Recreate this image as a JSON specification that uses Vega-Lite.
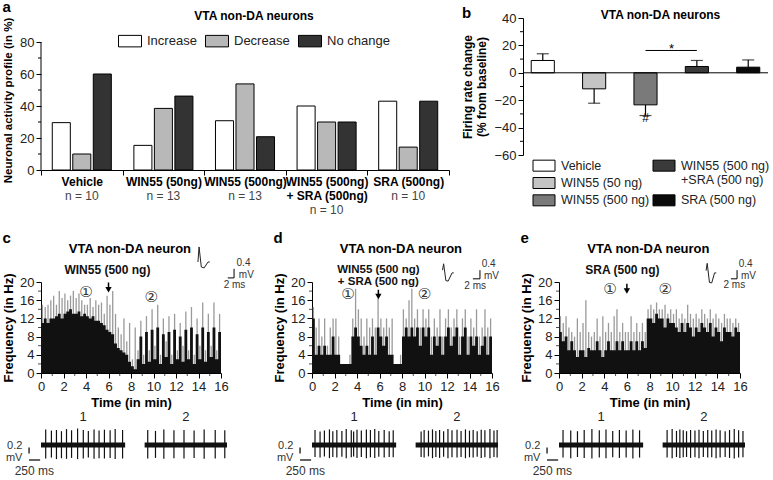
{
"$schema":"https://vega.github.io/schema/vega-lite/v6.json",
"padding":{"left":2,"right":2,"top":0,"bottom":0},
"config":{
 "font":"Liberation Sans",
 "view":{"stroke":null},
 "axis":{"grid":false,"domainColor":"#000","tickColor":"#000","labelColor":"#222","titleColor":"#000","labelFontSize":13,"titleFontSize":13,"titleFontWeight":"bold","labelFont":"Liberation Sans","titleFont":"Liberation Sans","labelOverlap":false,"labelFlush":false},
 "title":{"fontSize":15,"fontWeight":"bold","anchor":"start","frame":"bounds","color":"#000","offset":2,"font":"Liberation Sans"},
 "text":{"font":"Liberation Sans"}
},
"datasets":{
 "a_bars":[
  {"cat":"Vehicle","type":"Increase","v":29.6},{"cat":"Vehicle","type":"Decrease","v":10},{"cat":"Vehicle","type":"No change","v":60},
  {"cat":"WIN55 (50ng)","type":"Increase","v":15.4},{"cat":"WIN55 (50ng)","type":"Decrease","v":38.5},{"cat":"WIN55 (50ng)","type":"No change","v":46.2},
  {"cat":"WIN55 (500ng)","type":"Increase","v":30.8},{"cat":"WIN55 (500ng)","type":"Decrease","v":53.8},{"cat":"WIN55 (500ng)","type":"No change","v":20.8},
  {"cat":"WIN55 (500ng)|+ SRA (500ng)","type":"Increase","v":40},{"cat":"WIN55 (500ng)|+ SRA (500ng)","type":"Decrease","v":30},{"cat":"WIN55 (500ng)|+ SRA (500ng)","type":"No change","v":30},
  {"cat":"SRA (500ng)","type":"Increase","v":43},{"cat":"SRA (500ng)","type":"Decrease","v":14.3},{"cat":"SRA (500ng)","type":"No change","v":43}
 ],
 "a_n":[
  {"cat":"Vehicle","n":"n = 10"},{"cat":"WIN55 (50ng)","n":"n = 13"},{"cat":"WIN55 (500ng)","n":"n = 13"},{"cat":"WIN55 (500ng)|+ SRA (500ng)","n":"n = 10"},{"cat":"SRA (500ng)","n":"n = 10"}
 ],
 "b_bars":[
  {"cat":"Vehicle","m":9,"e":13.9},
  {"cat":"WIN55 (50 ng)","m":-11.7,"e":-22.2},
  {"cat":"WIN55 (500 ng)","m":-23.4,"e":-31.2},
  {"cat":"WIN55 (500 ng)|+SRA (500 ng)","m":4.6,"e":9},
  {"cat":"SRA (500 ng)","m":4.1,"e":9.4}
 ],
 "b_leg":[
  {"cat":"Vehicle","col":1,"row":1,"lab":"Vehicle"},
  {"cat":"WIN55 (50 ng)","col":1,"row":2,"lab":"WIN55 (50 ng)"},
  {"cat":"WIN55 (500 ng)","col":1,"row":3,"lab":"WIN55 (500 ng)"},
  {"cat":"WIN55 (500 ng)|+SRA (500 ng)","col":2,"row":1,"lab":"WIN55 (500 ng)"},
  {"cat":"SRA (500 ng)","col":2,"row":3,"lab":"SRA (500 ng)"},
  {"cat":null,"col":2,"row":1.8,"lab":"+SRA (500 ng)"}
 ],
 "c_h":[
  {"t":0,"k":11,"g":15},{"t":0.25,"k":12,"g":14.5},{"t":0.5,"k":11,"g":15},{"t":0.75,"k":12,"g":16},
  {"t":1,"k":12,"g":17},{"t":1.25,"k":12.5,"g":15},{"t":1.5,"k":13,"g":18},{"t":1.75,"k":12,"g":16.5},
  {"t":2,"k":13,"g":17.5},{"t":2.25,"k":13.5,"g":16},{"t":2.5,"k":14,"g":17},{"t":2.75,"k":13,"g":18},
  {"t":3,"k":13,"g":16.5},{"t":3.25,"k":13.5,"g":17.5},{"t":3.5,"k":12.5,"g":16},{"t":3.75,"k":13,"g":15},
  {"t":4,"k":12.5,"g":15},{"t":4.25,"k":12,"g":16.5},{"t":4.5,"k":12.5,"g":14.5},{"t":4.75,"k":11.5,"g":16},
  {"t":5,"k":11.5,"g":15},{"t":5.25,"k":11,"g":15.5},{"t":5.5,"k":10.5,"g":13},{"t":5.75,"k":9.5,"g":17},
  {"t":6,"k":9,"g":15},{"t":6.25,"k":8.5,"g":18},{"t":6.5,"k":6.5,"g":13},{"t":6.75,"k":5.5,"g":10},
  {"t":7,"k":5,"g":8.5},{"t":7.25,"k":4.5,"g":12},{"t":7.5,"k":4,"g":7},{"t":7.75,"k":2.5,"g":11},
  {"t":8,"k":1.5,"g":3},{"t":8.25,"k":0.8,"g":10},{"t":8.5,"k":3,"g":5},{"t":8.75,"k":8,"g":11.5},
  {"t":9,"k":2,"g":4},{"t":9.25,"k":9,"g":12.5},{"t":9.5,"k":2.5,"g":5},{"t":9.75,"k":9.5,"g":14},
  {"t":10,"k":3,"g":6},{"t":10.25,"k":10,"g":15},{"t":10.5,"k":2,"g":4},{"t":10.75,"k":8.5,"g":12},
  {"t":11,"k":3.5,"g":7},{"t":11.25,"k":9,"g":12.5},{"t":11.5,"k":2,"g":4},{"t":11.75,"k":9.5,"g":13},
  {"t":12,"k":3,"g":5},{"t":12.25,"k":8,"g":11},{"t":12.5,"k":2.5,"g":6},{"t":12.75,"k":9.5,"g":13.5},
  {"t":13,"k":3,"g":5},{"t":13.25,"k":10,"g":14.5},{"t":13.5,"k":2,"g":4},{"t":13.75,"k":8.5,"g":12},
  {"t":14,"k":3,"g":6},{"t":14.25,"k":10,"g":15.5},{"t":14.5,"k":2.5,"g":5},{"t":14.75,"k":9,"g":13},
  {"t":15,"k":3.5,"g":6},{"t":15.25,"k":10,"g":15.5},{"t":15.5,"k":3,"g":5},{"t":15.75,"k":9,"g":13},
  {"t":16,"k":9,"g":13}
 ],
 "d_h":[
  {"t":0,"k":12,"g":14.5},{"t":0.25,"k":4,"g":10},{"t":0.5,"k":6,"g":12},{"t":0.75,"k":4,"g":8},
  {"t":1,"k":6,"g":12},{"t":1.25,"k":4,"g":6},{"t":1.5,"k":4,"g":10},{"t":1.75,"k":8,"g":12},
  {"t":2,"k":4,"g":12},{"t":2.25,"k":4,"g":8},{"t":2.5,"k":2,"g":2},{"t":2.75,"k":2,"g":2},
  {"t":3,"k":2,"g":2},{"t":3.25,"k":2,"g":4},{"t":3.5,"k":8,"g":12},{"t":3.75,"k":10,"g":18.5},
  {"t":4,"k":8,"g":14},{"t":4.25,"k":6,"g":12},{"t":4.5,"k":4,"g":8},{"t":4.75,"k":6,"g":12},
  {"t":5,"k":4,"g":10},{"t":5.25,"k":8,"g":12},{"t":5.5,"k":4,"g":10},{"t":5.75,"k":10,"g":16.5},
  {"t":6,"k":8,"g":12},{"t":6.25,"k":6,"g":10},{"t":6.5,"k":8,"g":12},{"t":6.75,"k":4,"g":10},
  {"t":7,"k":4,"g":12},{"t":7.25,"k":2,"g":2},{"t":7.5,"k":2,"g":2},{"t":7.75,"k":2,"g":4},
  {"t":8,"k":8,"g":14},{"t":8.25,"k":10,"g":12},{"t":8.5,"k":8,"g":16},{"t":8.75,"k":10,"g":18.5},
  {"t":9,"k":8,"g":12},{"t":9.25,"k":10,"g":14},{"t":9.5,"k":6,"g":10},{"t":9.75,"k":10,"g":14},
  {"t":10,"k":8,"g":12},{"t":10.25,"k":10,"g":14},{"t":10.5,"k":4,"g":8},{"t":10.75,"k":8,"g":12},
  {"t":11,"k":6,"g":10},{"t":11.25,"k":8,"g":14},{"t":11.5,"k":4,"g":8},{"t":11.75,"k":8,"g":12},
  {"t":12,"k":10,"g":14},{"t":12.25,"k":6,"g":10},{"t":12.5,"k":8,"g":12},{"t":12.75,"k":10,"g":14},
  {"t":13,"k":4,"g":8},{"t":13.25,"k":8,"g":12},{"t":13.5,"k":10,"g":14},{"t":13.75,"k":4,"g":8},
  {"t":14,"k":8,"g":12},{"t":14.25,"k":6,"g":10},{"t":14.5,"k":8,"g":14},{"t":14.75,"k":4,"g":8},
  {"t":15,"k":6,"g":10},{"t":15.25,"k":8,"g":14},{"t":15.5,"k":4,"g":10},{"t":15.75,"k":8,"g":12},
  {"t":16,"k":8,"g":12}
 ],
 "e_h":[
  {"t":0,"k":9,"g":12.5},{"t":0.25,"k":7,"g":11},{"t":0.5,"k":8,"g":12.5},{"t":0.75,"k":5,"g":10},
  {"t":1,"k":7,"g":9},{"t":1.25,"k":5,"g":8},{"t":1.5,"k":3.5,"g":12},{"t":1.75,"k":5,"g":9},
  {"t":2,"k":5,"g":11},{"t":2.25,"k":3.5,"g":16},{"t":2.5,"k":5.5,"g":9},{"t":2.75,"k":5,"g":8},
  {"t":3,"k":5,"g":9},{"t":3.25,"k":7,"g":12},{"t":3.5,"k":5,"g":8},{"t":3.75,"k":3.5,"g":12.5},
  {"t":4,"k":5,"g":9},{"t":4.25,"k":7,"g":11},{"t":4.5,"k":5,"g":9},{"t":4.75,"k":5,"g":12.5},
  {"t":5,"k":7,"g":14},{"t":5.25,"k":5,"g":9},{"t":5.5,"k":7,"g":11},{"t":5.75,"k":5,"g":9},
  {"t":6,"k":5,"g":9},{"t":6.25,"k":7,"g":12.5},{"t":6.5,"k":5,"g":9},{"t":6.75,"k":7,"g":11},
  {"t":7,"k":5,"g":9},{"t":7.25,"k":7,"g":11},{"t":7.5,"k":5.5,"g":9},{"t":7.75,"k":12,"g":14},
  {"t":8,"k":12,"g":15},{"t":8.25,"k":11,"g":14},{"t":8.5,"k":13,"g":15.5},{"t":8.75,"k":12,"g":14},
  {"t":9,"k":12,"g":14},{"t":9.25,"k":10,"g":15},{"t":9.5,"k":12,"g":13},{"t":9.75,"k":11,"g":14},
  {"t":10,"k":11,"g":13},{"t":10.25,"k":10,"g":14},{"t":10.5,"k":9,"g":12},{"t":10.75,"k":11,"g":13},
  {"t":11,"k":9,"g":12},{"t":11.25,"k":11,"g":15},{"t":11.5,"k":10,"g":13},{"t":11.75,"k":8,"g":12},
  {"t":12,"k":10,"g":13},{"t":12.25,"k":9,"g":12},{"t":12.5,"k":11,"g":14},{"t":12.75,"k":10,"g":13},
  {"t":13,"k":9,"g":12},{"t":13.25,"k":11,"g":14},{"t":13.5,"k":8,"g":12},{"t":13.75,"k":10,"g":13},
  {"t":14,"k":9,"g":12},{"t":14.25,"k":7,"g":11},{"t":14.5,"k":10,"g":13},{"t":14.75,"k":9,"g":12},
  {"t":15,"k":9,"g":12},{"t":15.25,"k":8,"g":11},{"t":15.5,"k":10,"g":12},{"t":15.75,"k":9,"g":11},
  {"t":16,"k":9,"g":11}
 ],
 "c_circ":[{"t":4,"f":17.8,"s":"①"},{"t":9.8,"f":16.7,"s":"②"}],
 "d_circ":[{"t":3.2,"f":17.4,"s":"①"},{"t":10,"f":17.4,"s":"②"}],
 "e_circ":[{"t":4.5,"f":18.5,"s":"①"},{"t":9.4,"f":18.5,"s":"②"}],
 "c_wave":[{"t":13.95,"f":24.4},{"t":14.05,"f":27.7},{"t":14.25,"f":23.3},{"t":14.5,"f":23.1},{"t":14.85,"f":24.4},{"t":15.0,"f":24.4}],
 "d_wave":[{"t":11.6,"f":22.6},{"t":11.7,"f":24.0},{"t":11.9,"f":20.3},{"t":12.1,"f":20.2},{"t":12.45,"f":22.0},{"t":12.6,"f":22.0}],
 "e_wave":[{"t":13.0,"f":22.5},{"t":13.1,"f":24.1},{"t":13.3,"f":19.9},{"t":13.5,"f":19.8},{"t":13.75,"f":22.0},{"t":13.9,"f":22.0}],
 "c_bar":[{"t":17.16,"t2":17.16,"f":20.9,"f2":22.9},{"t":16.6,"t2":17.16,"f":20.9,"f2":20.9}],
 "d_bar":[{"t":14.93,"t2":14.93,"f":20.7,"f2":22.6},{"t":14.3,"t2":14.93,"f":20.7,"f2":20.7}],
 "e_bar":[{"t":15.74,"t2":15.74,"f":20.7,"f2":22.6},{"t":15.2,"t2":15.74,"f":20.7,"f2":20.7}],
 "c_itxt":[{"t":18.0,"f":24.1,"s":"0.4"},{"t":18.25,"f":21.5,"s":"mV"},{"t":17.2,"f":19.4,"s":"2 ms"}],
 "d_itxt":[{"t":15.7,"f":23.9,"s":"0.4"},{"t":15.95,"f":21.3,"s":"mV"},{"t":14.5,"f":19.2,"s":"2 ms"}],
 "e_itxt":[{"t":16.5,"f":23.9,"s":"0.4"},{"t":16.75,"f":21.3,"s":"mV"},{"t":15.5,"f":19.3,"s":"2 ms"}],
 "hy_minor":[{"v":2},{"v":6},{"v":10},{"v":14},{"v":18}],
 "hx_minor":[{"v":1},{"v":3},{"v":5},{"v":7},{"v":9},{"v":11},{"v":13},{"v":15}],
 "seg":[{"s":"1","x0":0,"x1":1900,"mid":950},{"s":"2","x0":2340,"x1":4200,"mid":3270}],
 "sbar":[{"x":-270,"x2":-270,"y":-0.08,"y2":-0.28},{"x":-270,"x2":-20,"y":-0.5,"y2":-0.5}],
 "stxt":[{"x":-420,"y":-0.04,"s":"0.2"},{"x":-420,"y":-0.42,"s":"mV"}],
 "c_sp":[
  {"x":106,"hi":0.52,"lo":-0.45},{"x":235,"hi":0.48,"lo":-0.42},{"x":349,"hi":0.5,"lo":-0.47},{"x":462,"hi":0.46,"lo":-0.44},{"x":576,"hi":0.53,"lo":-0.46},
  {"x":690,"hi":0.49,"lo":-0.43},{"x":826,"hi":0.55,"lo":-0.47},{"x":955,"hi":0.5,"lo":-0.45},{"x":1069,"hi":0.47,"lo":-0.42},{"x":1198,"hi":0.52,"lo":-0.46},
  {"x":1311,"hi":0.48,"lo":-0.44},{"x":1432,"hi":0.51,"lo":-0.45},{"x":1561,"hi":0.49,"lo":-0.43},{"x":1675,"hi":0.53,"lo":-0.47},{"x":1842,"hi":0.5,"lo":-0.45},
  {"x":2410,"hi":0.5,"lo":-0.45},{"x":2585,"hi":0.47,"lo":-0.43},{"x":2774,"hi":0.52,"lo":-0.46},{"x":3002,"hi":0.49,"lo":-0.44},{"x":3229,"hi":0.5,"lo":-0.45},
  {"x":3457,"hi":0.48,"lo":-0.43},{"x":3684,"hi":0.52,"lo":-0.46},{"x":3934,"hi":0.5,"lo":-0.45},{"x":4150,"hi":0.49,"lo":-0.44}
 ],
 "d_sp":[
  {"x":68,"hi":0.5,"lo":-0.4},{"x":182,"hi":0.45,"lo":-0.42},{"x":280,"hi":0.48,"lo":-0.38},{"x":394,"hi":0.52,"lo":-0.44},{"x":470,"hi":0.46,"lo":-0.4},
  {"x":561,"hi":0.5,"lo":-0.42},{"x":675,"hi":0.47,"lo":-0.39},{"x":773,"hi":0.53,"lo":-0.44},{"x":887,"hi":0.49,"lo":-0.41},{"x":940,"hi":0.45,"lo":-0.38},
  {"x":1016,"hi":0.51,"lo":-0.43},{"x":1114,"hi":0.48,"lo":-0.4},{"x":1228,"hi":0.52,"lo":-0.44},{"x":1319,"hi":0.5,"lo":-0.41},{"x":1417,"hi":0.53,"lo":-0.43},
  {"x":1508,"hi":0.47,"lo":-0.39},{"x":1630,"hi":0.5,"lo":-0.42},{"x":1743,"hi":0.46,"lo":-0.4},{"x":1834,"hi":0.49,"lo":-0.41},
  {"x":2464,"hi":0.45,"lo":-0.4},{"x":2532,"hi":0.5,"lo":-0.42},{"x":2630,"hi":0.48,"lo":-0.38},{"x":2721,"hi":0.52,"lo":-0.44},{"x":2797,"hi":0.47,"lo":-0.4},
  {"x":2881,"hi":0.5,"lo":-0.43},{"x":2972,"hi":0.46,"lo":-0.39},{"x":3070,"hi":0.53,"lo":-0.44},{"x":3161,"hi":0.49,"lo":-0.41},{"x":3275,"hi":0.51,"lo":-0.42},
  {"x":3366,"hi":0.47,"lo":-0.4},{"x":3465,"hi":0.52,"lo":-0.44},{"x":3556,"hi":0.48,"lo":-0.41},{"x":3639,"hi":0.5,"lo":-0.42},{"x":3730,"hi":0.46,"lo":-0.39},
  {"x":3821,"hi":0.51,"lo":-0.43},{"x":3904,"hi":0.49,"lo":-0.41},{"x":4018,"hi":0.53,"lo":-0.44},{"x":4109,"hi":0.48,"lo":-0.4},{"x":4180,"hi":0.5,"lo":-0.42}
 ],
 "e_sp":[
  {"x":91,"hi":0.5,"lo":-0.42},{"x":265,"hi":0.48,"lo":-0.44},{"x":417,"hi":0.46,"lo":-0.4},{"x":569,"hi":0.5,"lo":-0.43},{"x":743,"hi":0.53,"lo":-0.45},
  {"x":910,"hi":0.49,"lo":-0.42},{"x":1061,"hi":0.52,"lo":-0.44},{"x":1213,"hi":0.47,"lo":-0.41},{"x":1364,"hi":0.5,"lo":-0.43},{"x":1516,"hi":0.48,"lo":-0.42},
  {"x":1668,"hi":0.52,"lo":-0.45},{"x":1819,"hi":0.49,"lo":-0.42},
  {"x":2441,"hi":0.5,"lo":-0.42},{"x":2555,"hi":0.53,"lo":-0.44},{"x":2653,"hi":0.47,"lo":-0.4},{"x":2729,"hi":0.52,"lo":-0.43},{"x":2805,"hi":0.49,"lo":-0.41},
  {"x":2880,"hi":0.46,"lo":-0.4},{"x":2971,"hi":0.5,"lo":-0.43},{"x":3070,"hi":0.48,"lo":-0.41},{"x":3161,"hi":0.51,"lo":-0.44},{"x":3259,"hi":0.47,"lo":-0.4},
  {"x":3358,"hi":0.5,"lo":-0.42},{"x":3449,"hi":0.48,"lo":-0.41},{"x":3547,"hi":0.52,"lo":-0.44},{"x":3638,"hi":0.49,"lo":-0.42},{"x":3752,"hi":0.46,"lo":-0.4},
  {"x":3851,"hi":0.5,"lo":-0.43},{"x":3957,"hi":0.53,"lo":-0.45},{"x":4056,"hi":0.49,"lo":-0.42},{"x":4154,"hi":0.47,"lo":-0.41}
 ]
},
"spacing":13,
"vconcat":[
 {"spacing":11,"hconcat":[
  {"title":{"text":"a","offset":-5},"width":408,"height":152,
   "resolve":{"axis":{"y":"independent"}},
   "layer":[
    {"data":{"name":"a_bars"},"mark":{"type":"bar","stroke":"#000","strokeWidth":1},
     "encoding":{
      "x":{"field":"cat","type":"nominal","sort":null,"scale":{"paddingInner":0,"paddingOuter":0},
       "axis":{"title":null,"labelAngle":0,"labelFontWeight":"bold","labelFontSize":12,"labelColor":"#000","labelExpr":"split(datum.label, '|')","tickBand":"extent","tickSize":5,"labelPadding":1,"labelLineHeight":14}},
      "xOffset":{"field":"type","type":"nominal","sort":["Increase","Decrease","No change"],"scale":{"paddingInner":0.12,"paddingOuter":0.55}},
      "y":{"field":"v","type":"quantitative","scale":{"domain":[0,95],"nice":false},
       "axis":{"title":"Neuronal activity profile (in %)","titleFontSize":11.5,"titleY":82,"domain":false,"labelOverlap":false,"values":[0,20,40,60,80],"tickSize":5,"titlePadding":6}},
      "fill":{"field":"type","type":"nominal","scale":{"domain":["Increase","Decrease","No change"],"range":["#ffffff","#b8b8b8","#333333"]},
       "legend":{"orient":"none","legendX":77,"legendY":11,"direction":"horizontal","title":null,"symbolType":"M-1,-0.5H1V0.5H-1Z","symbolSize":529,"symbolStrokeColor":"#000","symbolStrokeWidth":1,"labelFontSize":13,"labelColor":"#222","columnPadding":6,"labelOffset":5}}
     }},
    {"data":{"values":[{}]},"mark":{"type":"rule","color":"#000","strokeWidth":1},
     "encoding":{"x":{"datum":"Vehicle","bandPosition":0},"y":{"datum":0,"type":"quantitative","axis":null},"y2":{"datum":80}}},
    {"data":{"values":[{"v":10},{"v":30},{"v":50},{"v":70}]},"mark":{"type":"rule","strokeWidth":1,"color":"#000","xOffset":-3},
     "encoding":{"x":{"datum":"Vehicle","bandPosition":0},"x2":{"datum":"Vehicle","bandPosition":0},"y":{"field":"v","type":"quantitative","axis":null}}},
    {"data":{"name":"a_n"},"transform":[{"filter":"indexof(datum.cat, '|') < 0"}],"mark":{"type":"text","fontSize":12,"color":"#444"},
     "encoding":{"x":{"field":"cat","type":"nominal","sort":null},"y":{"datum":-16.3,"axis":null},"text":{"field":"n"}}},
    {"data":{"name":"a_n"},"transform":[{"filter":"indexof(datum.cat, '|') >= 0"}],"mark":{"type":"text","fontSize":12,"color":"#444"},
     "encoding":{"x":{"field":"cat","type":"nominal","sort":null},"y":{"datum":-25.3,"axis":null},"text":{"field":"n"}}},
    {"data":{"values":[{}]},"mark":{"type":"text","fontSize":12,"fontWeight":"bold","color":"#000","dx":9},
     "encoding":{"x":{"datum":"WIN55 (500ng)"},"y":{"datum":96,"axis":null},"text":{"value":"VTA non-DA neurons"}}}
   ]},
  {"title":{"text":"b","offset":-12},"bounds":"flush","spacing":2,
   "vconcat":[
    {"width":245,"height":137,
     "resolve":{"axis":{"y":"independent"}},
     "layer":[
      {"data":{"name":"b_bars"},"mark":{"type":"bar","stroke":"#000","strokeWidth":1},
       "encoding":{
        "x":{"field":"cat","type":"nominal","sort":null,"scale":{"paddingInner":0.55,"paddingOuter":0.16},"axis":null},
        "y":{"field":"m","type":"quantitative","scale":{"domain":[-60,40],"nice":false},
         "axis":{"title":["Firing rate change","(% from baseline)"],"titleFontSize":12,"labelOverlap":false,"values":[-60,-40,-20,0,20,40],"tickSize":5,"titlePadding":5}},
        "color":{"field":"cat","type":"nominal","scale":{"domain":["Vehicle","WIN55 (50 ng)","WIN55 (500 ng)","WIN55 (500 ng)|+SRA (500 ng)","SRA (500 ng)"],"range":["#ffffff","#c4c4c4","#7a7a7a","#3a3a3a","#0a0a0a"]},"legend":null}
       }},
      {"data":{"values":[{"v":-50},{"v":-30},{"v":-10},{"v":10},{"v":30}]},"mark":{"type":"rule","strokeWidth":1,"color":"#000","xOffset":-3},
       "encoding":{"x":{"datum":"Vehicle","bandPosition":-0.356},"x2":{"datum":"Vehicle","bandPosition":-0.356},"y":{"field":"v","type":"quantitative","axis":null}}},
      {"data":{"name":"b_bars"},"mark":{"type":"rule","color":"#000","strokeWidth":1.2},
       "encoding":{"x":{"field":"cat","type":"nominal","sort":null},"y":{"field":"m","type":"quantitative","axis":null},"y2":{"field":"e"}}},
      {"data":{"name":"b_bars"},"mark":{"type":"tick","orient":"horizontal","color":"#000","size":12,"thickness":1.2},
       "encoding":{"x":{"field":"cat","type":"nominal","sort":null},"y":{"field":"e","type":"quantitative","axis":null}}},
      {"data":{"values":[{}]},"mark":{"type":"rule","color":"#000","strokeWidth":1},"encoding":{"y":{"datum":0,"axis":null}}},
      {"data":{"values":[{}]},"mark":{"type":"rule","color":"#000","strokeWidth":1},
       "encoding":{"x":{"datum":"WIN55 (500 ng)"},"x2":{"datum":"WIN55 (500 ng)|+SRA (500 ng)"},"y":{"datum":16.3,"axis":null}}},
      {"data":{"values":[{}]},"mark":{"type":"text","fontSize":13,"color":"#000","dx":26,"dy":1},
       "encoding":{"x":{"datum":"WIN55 (500 ng)"},"y":{"datum":18,"axis":null},"text":{"value":"*"}}},
      {"data":{"values":[{}]},"mark":{"type":"text","fontSize":12,"color":"#000"},
       "encoding":{"x":{"datum":"WIN55 (500 ng)"},"y":{"datum":-33,"axis":null},"text":{"value":"#"}}},
      {"data":{"values":[{}]},"mark":{"type":"text","fontSize":12,"fontWeight":"bold","color":"#000","dx":15},
       "encoding":{"x":{"datum":"WIN55 (500 ng)"},"y":{"datum":42,"axis":null},"text":{"value":"VTA non-DA neurons"}}}
     ]},
    {"width":162,"height":52,"data":{"name":"b_leg"},
     "layer":[
      {"transform":[{"filter":"datum.cat != null"}],
       "mark":{"type":"point","shape":"M-1,-0.5H1V0.5H-1Z","size":484,"filled":true,"opacity":1,"stroke":"#000","strokeWidth":1},
       "encoding":{"x":{"field":"col","type":"ordinal","scale":{"type":"point","padding":0.175},"axis":null},
        "y":{"field":"row","type":"quantitative","scale":{"domain":[0.5,3.5],"reverse":true,"nice":false,"zero":false},"axis":null},
        "color":{"field":"cat","type":"nominal","scale":{"domain":["Vehicle","WIN55 (50 ng)","WIN55 (500 ng)","WIN55 (500 ng)|+SRA (500 ng)","SRA (500 ng)"],"range":["#ffffff","#c4c4c4","#7a7a7a","#3a3a3a","#0a0a0a"]},"legend":null}}},
      {"mark":{"type":"text","align":"left","baseline":"middle","dx":17,"fontSize":12.5,"color":"#222"},
       "encoding":{"x":{"field":"col","type":"ordinal"},"y":{"field":"row","type":"quantitative"},"text":{"field":"lab"}}}
     ]}
   ]}
 ]},
 {"spacing":19,"hconcat":[
  {"title":{"text":"c","offset":-3},"bounds":"flush","spacing":42,
   "vconcat":[
    {"width":180,"height":91,
     "resolve":{"axis":{"x":"independent","y":"independent"}},
     "layer":[
      {"data":{"name":"c_h"},"transform":[{"filter":"datum.t < 16"}],"mark":{"type":"rule","color":"#9a9a9a","strokeWidth":1.3,"xOffset":1.4},
       "encoding":{"x":{"field":"t","type":"quantitative","scale":{"domain":[0,16],"nice":false},
         "axis":{"title":"Time (in min)","labelOverlap":false,"values":[0,2,4,6,8,10,12,14,16],"tickSize":5,"labelPadding":2,"titlePadding":3}},
        "y":{"field":"g","type":"quantitative","scale":{"domain":[0,20],"nice":false},
         "axis":{"title":"Frequency (in Hz)","labelOverlap":false,"values":[0,4,8,12,16,20],"tickSize":5,"titlePadding":4}},
        "y2":{"datum":0}}},
      {"data":{"name":"c_h"},"mark":{"type":"area","interpolate":"step-after","color":"#111"},
       "encoding":{"x":{"field":"t","type":"quantitative","axis":null},"y":{"field":"k","type":"quantitative","axis":null}}},
      {"data":{"name":"hy_minor"},"mark":{"type":"tick","orient":"horizontal","size":3,"thickness":1,"color":"#000","xOffset":-1.5},
       "encoding":{"x":{"datum":0,"axis":null},"y":{"field":"v","type":"quantitative","axis":null}}},
      {"data":{"name":"hx_minor"},"mark":{"type":"tick","orient":"vertical","size":3,"thickness":1,"color":"#000","yOffset":1.5},
       "encoding":{"x":{"field":"v","type":"quantitative","axis":null},"y":{"datum":0,"axis":null}}},
      {"data":{"values":[{}]},"mark":{"type":"text","fontSize":13,"fontWeight":"bold","color":"#000"},
       "encoding":{"x":{"datum":7.9,"axis":null},"y":{"datum":27.3,"axis":null},"text":{"value":"VTA non-DA neuron"}}},
      {"data":{"values":[{}]},"mark":{"type":"text","fontSize":12,"fontWeight":"bold","color":"#111"},
       "encoding":{"x":{"datum":5.9,"axis":null},"y":{"datum":22.6,"axis":null},"text":{"value":"WIN55 (500 ng)"}}},
      {"data":{"name":"c_circ"},"mark":{"type":"text","fontSize":15,"font":"DejaVu Sans","color":"#333"},
       "encoding":{"x":{"field":"t","type":"quantitative","axis":null},"y":{"field":"f","type":"quantitative","axis":null},"text":{"field":"s"}}},
      {"data":{"values":[{}]},"mark":{"type":"rule","color":"#000","strokeWidth":1.5},
       "encoding":{"x":{"datum":6,"axis":null},"y":{"datum":19.9,"axis":null},"y2":{"datum":18.6}}},
      {"data":{"values":[{}]},"mark":{"type":"point","shape":"triangle-down","filled":true,"size":40,"color":"#000","opacity":1},
       "encoding":{"x":{"datum":6,"axis":null},"y":{"datum":18.3,"axis":null}}},
      {"data":{"name":"c_wave"},"mark":{"type":"line","color":"#222","strokeWidth":1},
       "encoding":{"x":{"field":"t","type":"quantitative","axis":null},"y":{"field":"f","type":"quantitative","axis":null}}},
      {"data":{"name":"c_bar"},"mark":{"type":"rule","color":"#000","strokeWidth":1},
       "encoding":{"x":{"field":"t","type":"quantitative","axis":null},"x2":{"field":"t2"},"y":{"field":"f","type":"quantitative","axis":null},"y2":{"field":"f2"}}},
      {"data":{"name":"c_itxt"},"mark":{"type":"text","fontSize":10,"color":"#333"},
       "encoding":{"x":{"field":"t","type":"quantitative","axis":null},"y":{"field":"f","type":"quantitative","axis":null},"text":{"field":"s"}}}
     ]},
    {"width":186,"height":48,
     "layer":[
      {"data":{"name":"seg"},"mark":{"type":"rule","color":"#111","strokeWidth":5},
       "encoding":{"x":{"field":"x0","type":"quantitative","scale":{"domain":[0,4200],"nice":false},"axis":null},"x2":{"field":"x1"},"y":{"datum":0,"scale":{"domain":[-0.6,1.0],"nice":false},"axis":null}}},
      {"data":{"name":"c_sp"},"mark":{"type":"rule","color":"#111","strokeWidth":1.2},
       "encoding":{"x":{"field":"x","type":"quantitative"},"y":{"field":"hi","type":"quantitative"},"y2":{"field":"lo"}}},
      {"data":{"name":"seg"},"mark":{"type":"text","fontSize":13,"color":"#222"},
       "encoding":{"x":{"field":"mid","type":"quantitative"},"y":{"datum":0.93},"text":{"field":"s"}}},
      {"data":{"name":"sbar"},"mark":{"type":"rule","color":"#111","strokeWidth":1.3},
       "encoding":{"x":{"field":"x","type":"quantitative"},"x2":{"field":"x2"},"y":{"field":"y","type":"quantitative"},"y2":{"field":"y2"}}},
      {"data":{"name":"stxt"},"mark":{"type":"text","fontSize":11,"color":"#333","align":"right"},
       "encoding":{"x":{"field":"x","type":"quantitative"},"y":{"field":"y","type":"quantitative"},"text":{"field":"s"}}},
      {"data":{"values":[{}]},"mark":{"type":"text","fontSize":12,"color":"#333"},
       "encoding":{"x":{"datum":-150},"y":{"datum":-0.85},"text":{"value":"250 ms"}}}
     ]}
   ]},
  {"title":{"text":"d","offset":-3},"bounds":"flush","spacing":42,
   "vconcat":[
    {"width":180,"height":91,
     "resolve":{"axis":{"x":"independent","y":"independent"}},
     "layer":[
      {"data":{"name":"d_h"},"transform":[{"filter":"datum.t < 16"}],"mark":{"type":"rule","color":"#9a9a9a","strokeWidth":1.3,"xOffset":1.4},
       "encoding":{"x":{"field":"t","type":"quantitative","scale":{"domain":[0,16],"nice":false},
         "axis":{"title":"Time (in min)","labelOverlap":false,"values":[0,2,4,6,8,10,12,14,16],"tickSize":5,"labelPadding":2,"titlePadding":3}},
        "y":{"field":"g","type":"quantitative","scale":{"domain":[0,20],"nice":false},
         "axis":{"title":"Frequency (in Hz)","labelOverlap":false,"values":[0,4,8,12,16,20],"tickSize":5,"titlePadding":4}},
        "y2":{"datum":0}}},
      {"data":{"name":"d_h"},"mark":{"type":"area","interpolate":"step-after","color":"#111"},
       "encoding":{"x":{"field":"t","type":"quantitative","axis":null},"y":{"field":"k","type":"quantitative","axis":null}}},
      {"data":{"name":"hy_minor"},"mark":{"type":"tick","orient":"horizontal","size":3,"thickness":1,"color":"#000","xOffset":-1.5},
       "encoding":{"x":{"datum":0,"axis":null},"y":{"field":"v","type":"quantitative","axis":null}}},
      {"data":{"name":"hx_minor"},"mark":{"type":"tick","orient":"vertical","size":3,"thickness":1,"color":"#000","yOffset":1.5},
       "encoding":{"x":{"field":"v","type":"quantitative","axis":null},"y":{"datum":0,"axis":null}}},
      {"data":{"values":[{}]},"mark":{"type":"text","fontSize":13,"fontWeight":"bold","color":"#000"},
       "encoding":{"x":{"datum":7.9,"axis":null},"y":{"datum":27.3,"axis":null},"text":{"value":"VTA non-DA neuron"}}},
      {"data":{"values":[{}]},"mark":{"type":"text","fontSize":11.5,"fontWeight":"bold","color":"#111","lineBreak":"\n","lineHeight":12},
       "encoding":{"x":{"datum":5.9,"axis":null},"y":{"datum":22.6,"axis":null},"text":{"value":"WIN55 (500 ng)\n+ SRA (500 ng)"}}},
      {"data":{"name":"d_circ"},"mark":{"type":"text","fontSize":15,"font":"DejaVu Sans","color":"#333"},
       "encoding":{"x":{"field":"t","type":"quantitative","axis":null},"y":{"field":"f","type":"quantitative","axis":null},"text":{"field":"s"}}},
      {"data":{"values":[{}]},"mark":{"type":"rule","color":"#000","strokeWidth":1.5},
       "encoding":{"x":{"datum":5.9,"axis":null},"y":{"datum":18.3,"axis":null},"y2":{"datum":17.1}}},
      {"data":{"values":[{}]},"mark":{"type":"point","shape":"triangle-down","filled":true,"size":40,"color":"#000","opacity":1},
       "encoding":{"x":{"datum":5.9,"axis":null},"y":{"datum":16.8,"axis":null}}},
      {"data":{"name":"d_wave"},"mark":{"type":"line","color":"#222","strokeWidth":1},
       "encoding":{"x":{"field":"t","type":"quantitative","axis":null},"y":{"field":"f","type":"quantitative","axis":null}}},
      {"data":{"name":"d_bar"},"mark":{"type":"rule","color":"#000","strokeWidth":1},
       "encoding":{"x":{"field":"t","type":"quantitative","axis":null},"x2":{"field":"t2"},"y":{"field":"f","type":"quantitative","axis":null},"y2":{"field":"f2"}}},
      {"data":{"name":"d_itxt"},"mark":{"type":"text","fontSize":10,"color":"#333"},
       "encoding":{"x":{"field":"t","type":"quantitative","axis":null},"y":{"field":"f","type":"quantitative","axis":null},"text":{"field":"s"}}}
     ]},
    {"width":186,"height":48,
     "layer":[
      {"data":{"name":"seg"},"mark":{"type":"rule","color":"#111","strokeWidth":5},
       "encoding":{"x":{"field":"x0","type":"quantitative","scale":{"domain":[0,4200],"nice":false},"axis":null},"x2":{"field":"x1"},"y":{"datum":0,"scale":{"domain":[-0.6,1.0],"nice":false},"axis":null}}},
      {"data":{"name":"d_sp"},"mark":{"type":"rule","color":"#111","strokeWidth":1.2},
       "encoding":{"x":{"field":"x","type":"quantitative"},"y":{"field":"hi","type":"quantitative"},"y2":{"field":"lo"}}},
      {"data":{"name":"seg"},"mark":{"type":"text","fontSize":13,"color":"#222"},
       "encoding":{"x":{"field":"mid","type":"quantitative"},"y":{"datum":0.93},"text":{"field":"s"}}},
      {"data":{"name":"sbar"},"mark":{"type":"rule","color":"#111","strokeWidth":1.3},
       "encoding":{"x":{"field":"x","type":"quantitative"},"x2":{"field":"x2"},"y":{"field":"y","type":"quantitative"},"y2":{"field":"y2"}}},
      {"data":{"name":"stxt"},"mark":{"type":"text","fontSize":11,"color":"#333","align":"right"},
       "encoding":{"x":{"field":"x","type":"quantitative"},"y":{"field":"y","type":"quantitative"},"text":{"field":"s"}}},
      {"data":{"values":[{}]},"mark":{"type":"text","fontSize":12,"color":"#333"},
       "encoding":{"x":{"datum":-150},"y":{"datum":-0.85},"text":{"value":"250 ms"}}}
     ]}
   ]},
  {"title":{"text":"e","offset":-3},"bounds":"flush","spacing":42,
   "vconcat":[
    {"width":181,"height":91,
     "resolve":{"axis":{"x":"independent","y":"independent"}},
     "layer":[
      {"data":{"name":"e_h"},"transform":[{"filter":"datum.t < 16"}],"mark":{"type":"rule","color":"#9a9a9a","strokeWidth":1.3,"xOffset":1.4},
       "encoding":{"x":{"field":"t","type":"quantitative","scale":{"domain":[0,16],"nice":false},
         "axis":{"title":"Time (in min)","labelOverlap":false,"values":[0,2,4,6,8,10,12,14,16],"tickSize":5,"labelPadding":2,"titlePadding":3}},
        "y":{"field":"g","type":"quantitative","scale":{"domain":[0,20],"nice":false},
         "axis":{"title":"Frequency (in Hz)","labelOverlap":false,"values":[0,4,8,12,16,20],"tickSize":5,"titlePadding":4}},
        "y2":{"datum":0}}},
      {"data":{"name":"e_h"},"mark":{"type":"area","interpolate":"step-after","color":"#111"},
       "encoding":{"x":{"field":"t","type":"quantitative","axis":null},"y":{"field":"k","type":"quantitative","axis":null}}},
      {"data":{"name":"hy_minor"},"mark":{"type":"tick","orient":"horizontal","size":3,"thickness":1,"color":"#000","xOffset":-1.5},
       "encoding":{"x":{"datum":0,"axis":null},"y":{"field":"v","type":"quantitative","axis":null}}},
      {"data":{"name":"hx_minor"},"mark":{"type":"tick","orient":"vertical","size":3,"thickness":1,"color":"#000","yOffset":1.5},
       "encoding":{"x":{"field":"v","type":"quantitative","axis":null},"y":{"datum":0,"axis":null}}},
      {"data":{"values":[{}]},"mark":{"type":"text","fontSize":13,"fontWeight":"bold","color":"#000"},
       "encoding":{"x":{"datum":7.9,"axis":null},"y":{"datum":27.3,"axis":null},"text":{"value":"VTA non-DA neuron"}}},
      {"data":{"values":[{}]},"mark":{"type":"text","fontSize":12,"fontWeight":"bold","color":"#111"},
       "encoding":{"x":{"datum":5.6,"axis":null},"y":{"datum":22.6,"axis":null},"text":{"value":"SRA (500 ng)"}}},
      {"data":{"name":"e_circ"},"mark":{"type":"text","fontSize":15,"font":"DejaVu Sans","color":"#333"},
       "encoding":{"x":{"field":"t","type":"quantitative","axis":null},"y":{"field":"f","type":"quantitative","axis":null},"text":{"field":"s"}}},
      {"data":{"values":[{}]},"mark":{"type":"rule","color":"#000","strokeWidth":1.5},
       "encoding":{"x":{"datum":6,"axis":null},"y":{"datum":19.6,"axis":null},"y2":{"datum":18.4}}},
      {"data":{"values":[{}]},"mark":{"type":"point","shape":"triangle-down","filled":true,"size":40,"color":"#000","opacity":1},
       "encoding":{"x":{"datum":6,"axis":null},"y":{"datum":18.0,"axis":null}}},
      {"data":{"name":"e_wave"},"mark":{"type":"line","color":"#222","strokeWidth":1},
       "encoding":{"x":{"field":"t","type":"quantitative","axis":null},"y":{"field":"f","type":"quantitative","axis":null}}},
      {"data":{"name":"e_bar"},"mark":{"type":"rule","color":"#000","strokeWidth":1},
       "encoding":{"x":{"field":"t","type":"quantitative","axis":null},"x2":{"field":"t2"},"y":{"field":"f","type":"quantitative","axis":null},"y2":{"field":"f2"}}},
      {"data":{"name":"e_itxt"},"mark":{"type":"text","fontSize":10,"color":"#333"},
       "encoding":{"x":{"field":"t","type":"quantitative","axis":null},"y":{"field":"f","type":"quantitative","axis":null},"text":{"field":"s"}}}
     ]},
    {"width":186,"height":48,
     "layer":[
      {"data":{"name":"seg"},"mark":{"type":"rule","color":"#111","strokeWidth":5},
       "encoding":{"x":{"field":"x0","type":"quantitative","scale":{"domain":[0,4200],"nice":false},"axis":null},"x2":{"field":"x1"},"y":{"datum":0,"scale":{"domain":[-0.6,1.0],"nice":false},"axis":null}}},
      {"data":{"name":"e_sp"},"mark":{"type":"rule","color":"#111","strokeWidth":1.2},
       "encoding":{"x":{"field":"x","type":"quantitative"},"y":{"field":"hi","type":"quantitative"},"y2":{"field":"lo"}}},
      {"data":{"name":"seg"},"mark":{"type":"text","fontSize":13,"color":"#222"},
       "encoding":{"x":{"field":"mid","type":"quantitative"},"y":{"datum":0.93},"text":{"field":"s"}}},
      {"data":{"name":"sbar"},"mark":{"type":"rule","color":"#111","strokeWidth":1.3},
       "encoding":{"x":{"field":"x","type":"quantitative"},"x2":{"field":"x2"},"y":{"field":"y","type":"quantitative"},"y2":{"field":"y2"}}},
      {"data":{"name":"stxt"},"mark":{"type":"text","fontSize":11,"color":"#333","align":"right"},
       "encoding":{"x":{"field":"x","type":"quantitative"},"y":{"field":"y","type":"quantitative"},"text":{"field":"s"}}},
      {"data":{"values":[{}]},"mark":{"type":"text","fontSize":12,"color":"#333"},
       "encoding":{"x":{"datum":-150},"y":{"datum":-0.85},"text":{"value":"250 ms"}}}
     ]}
   ]}
 ]}
]
}
